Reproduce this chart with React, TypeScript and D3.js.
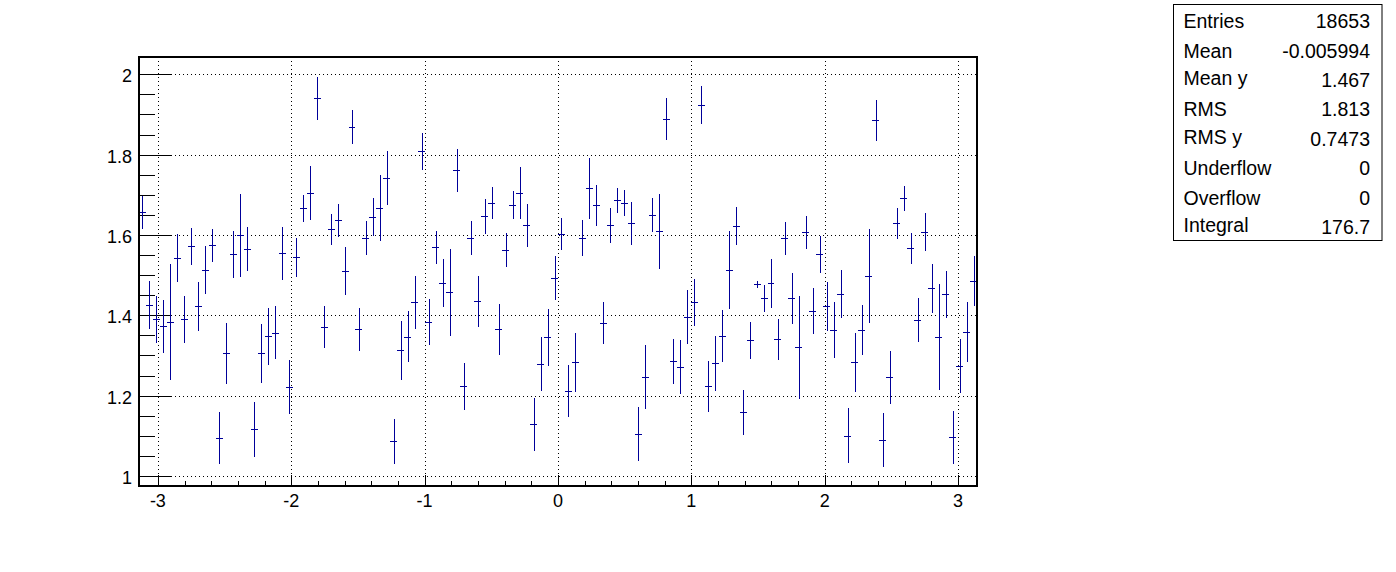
import React from "react";
import * as d3 from "d3";

// Profile bin contents (120 bins from -pi to pi)
const binValues: number[] = [
  1.657, 1.426, 1.390, 1.373, 1.383, 1.543, 1.390, 1.572, 1.422, 1.512,
  1.574, 1.094, 1.305, 1.552, 1.599, 1.565, 1.116, 1.305, 1.348, 1.356,
  1.554, 1.221, 1.544, 1.666, 1.705, 1.940, 1.370, 1.614, 1.637, 1.510,
  1.869, 1.365, 1.592, 1.644, 1.666, 1.741, 1.086, 1.313, 1.347, 1.432,
  1.808, 1.383, 1.569, 1.480, 1.457, 1.761, 1.223, 1.592, 1.435, 1.646,
  1.679, 1.365, 1.562, 1.674, 1.705, 1.624, 1.129, 1.278, 1.345, 1.492,
  1.603, 1.211, 1.283, 1.592, 1.716, 1.674, 1.380, 1.624, 1.686, 1.679,
  1.629, 1.104, 1.246, 1.649, 1.609, 1.888, 1.285, 1.271, 1.395, 1.432,
  1.923, 1.223, 1.280, 1.348, 1.512, 1.622, 1.158, 1.338, 1.477, 1.442,
  1.480, 1.340, 1.592, 1.442, 1.320, 1.607, 1.410, 1.552, 1.422, 1.363,
  1.452, 1.100, 1.283, 1.363, 1.498, 1.885, 1.089, 1.246, 1.629, 1.691,
  1.567, 1.388, 1.607, 1.467, 1.345, 1.452, 1.096, 1.273, 1.358, 1.485,
];

const binErrors: number[] = [
  0.041, 0.059, 0.058, 0.066, 0.145, 0.060, 0.059, 0.046, 0.060, 0.060,
  0.041, 0.064, 0.075, 0.058, 0.104, 0.055, 0.068, 0.074, 0.071, 0.066,
  0.066, 0.067, 0.049, 0.033, 0.067, 0.053, 0.052, 0.038, 0.041, 0.059,
  0.042, 0.053, 0.042, 0.047, 0.082, 0.067, 0.057, 0.074, 0.064, 0.066,
  0.046, 0.058, 0.041, 0.060, 0.108, 0.053, 0.058, 0.043, 0.063, 0.044,
  0.040, 0.063, 0.042, 0.035, 0.065, 0.054, 0.066, 0.067, 0.071, 0.055,
  0.040, 0.064, 0.073, 0.044, 0.076, 0.051, 0.052, 0.044, 0.032, 0.032,
  0.053, 0.067, 0.079, 0.042, 0.094, 0.052, 0.057, 0.067, 0.067, 0.058,
  0.047, 0.063, 0.069, 0.065, 0.097, 0.048, 0.056, 0.046, 0.009, 0.034,
  0.061, 0.051, 0.041, 0.064, 0.129, 0.041, 0.057, 0.046, 0.060, 0.069,
  0.060, 0.068, 0.074, 0.062, 0.116, 0.052, 0.067, 0.066, 0.039, 0.031,
  0.039, 0.054, 0.047, 0.061, 0.132, 0.058, 0.066, 0.067, 0.075, 0.062,
];

const xTickValues: number[] = [-3, -2, -1, 0, 1, 2, 3];
const yTickValues: number[] = [1, 1.2, 1.4, 1.6, 1.8, 2];
const yTickLabels: string[] = ["1", "1.2", "1.4", "1.6", "1.8", "2"];

const statLabels: string[] = ["Entries", "Mean", "Mean y", "RMS", "RMS y", "Underflow", "Overflow", "Integral"];
const statValues: string[] = ["18653", "-0.005994", "1.467", "1.813", "0.7473", "0", "0", "176.7"];

const FONT = "'Liberation Sans', Arial, Helvetica, sans-serif";
const COLOR = "#000099";

export default function App() {
  const W = 1396;
  const H = 572;
  const x0 = 139, x1 = 977, y0 = 57, y1 = 486;
  const xMin = -Math.PI, xMax = Math.PI;
  const x = d3.scaleLinear().domain([xMin, xMax]).range([x0, x1]);
  const y = d3.scaleLinear().domain([0.975, 2.043]).range([y1, y0]);

  const n = binValues.length;
  const bw = (xMax - xMin) / n;

  const xMinor = d3.range(-3, 3.001, 0.2).filter((v) => Math.abs(v - Math.round(v)) > 1e-6);
  const yMinor = d3.range(1, 2.001, 0.05).filter((v) => Math.abs(v * 5 - Math.round(v * 5)) > 1e-6);
  const px = (v: number) => Math.round(v) + 0.5;

  return (
    <div style={{ position: "absolute", left: 0, top: 0, width: W, height: H, background: "#fff" }}>
      <svg width={W} height={H} style={{ display: "block" }}>
        <rect x={0} y={0} width={W} height={H} fill="#fff" />
        {/* grid */}
        <g stroke="#000" strokeWidth={1} strokeDasharray="1,3" shapeRendering="crispEdges">
          {xTickValues.map((v) => (
            <line key={"gx" + v} x1={px(x(v))} x2={px(x(v))} y1={y0} y2={y1} />
          ))}
          {yTickValues.map((v) => (
            <line key={"gy" + v} x1={x0} x2={x1} y1={px(y(v))} y2={px(y(v))} />
          ))}
        </g>
        {/* ticks */}
        <g stroke="#000" strokeWidth={1} shapeRendering="crispEdges">
          {xTickValues.map((v) => (
            <line key={"tx" + v} x1={px(x(v))} x2={px(x(v))} y1={y1} y2={y1 - 11} />
          ))}
          {xMinor.map((v) => (
            <line key={"mx" + v} x1={px(x(v))} x2={px(x(v))} y1={y1} y2={y1 - 5.5} />
          ))}
          {yTickValues.map((v) => (
            <line key={"ty" + v} x1={x0} x2={x0 + 33} y1={px(y(v))} y2={px(y(v))} />
          ))}
          {yMinor.map((v) => (
            <line key={"my" + v} x1={x0} x2={x0 + 16} y1={px(y(v))} y2={px(y(v))} />
          ))}
        </g>
        {/* error bars */}
        <g stroke={COLOR} strokeWidth={1} shapeRendering="crispEdges">
          {binValues.map((v, i) => {
            const lo = xMin + i * bw;
            const hi = lo + bw;
            const c = lo + bw / 2;
            const e = binErrors[i];
            return (
              <g key={"b" + i}>
                <line x1={Math.round(x(lo))} x2={Math.round(x(hi))} y1={px(y(v))} y2={px(y(v))} />
                <line x1={px(x(c))} x2={px(x(c))} y1={Math.round(y(v + e))} y2={Math.round(y(v - e))} />
              </g>
            );
          })}
        </g>
        {/* frame */}
        <rect x={x0} y={y0} width={x1 - x0} height={y1 - y0} fill="none" stroke="#000" strokeWidth={2} />
        {/* axis labels */}
        <g fontFamily={FONT} fontSize={18} fill="#000">
          {xTickValues.map((v) => (
            <text key={"lx" + v} x={x(v)} y={507} textAnchor="middle">{String(v)}</text>
          ))}
          {yTickValues.map((v, i) => (
            <text key={"ly" + v} x={132} y={y(v) + 8} textAnchor="end">{yTickLabels[i]}</text>
          ))}
        </g>
        {/* stats box */}
        <rect x={1173.5} y={4.5} width={208.5} height={236} fill="#fff" stroke="#000" strokeWidth={1} />
        <g fontFamily={FONT} fontSize={19.5} fill="#000">
          {statLabels.map((l, i) => {
            const base = 28.2 + 29.4 * i;
            const desc = /[gyjpq]/.test(l) ? 1.8 : 0;
            return (
              <g key={"s" + i}>
                <text x={1183.5} y={base - desc}>{l}</text>
                <text x={1370} y={base} textAnchor="end">{statValues[i]}</text>
              </g>
            );
          })}
        </g>
      </svg>
    </div>
  );
}
